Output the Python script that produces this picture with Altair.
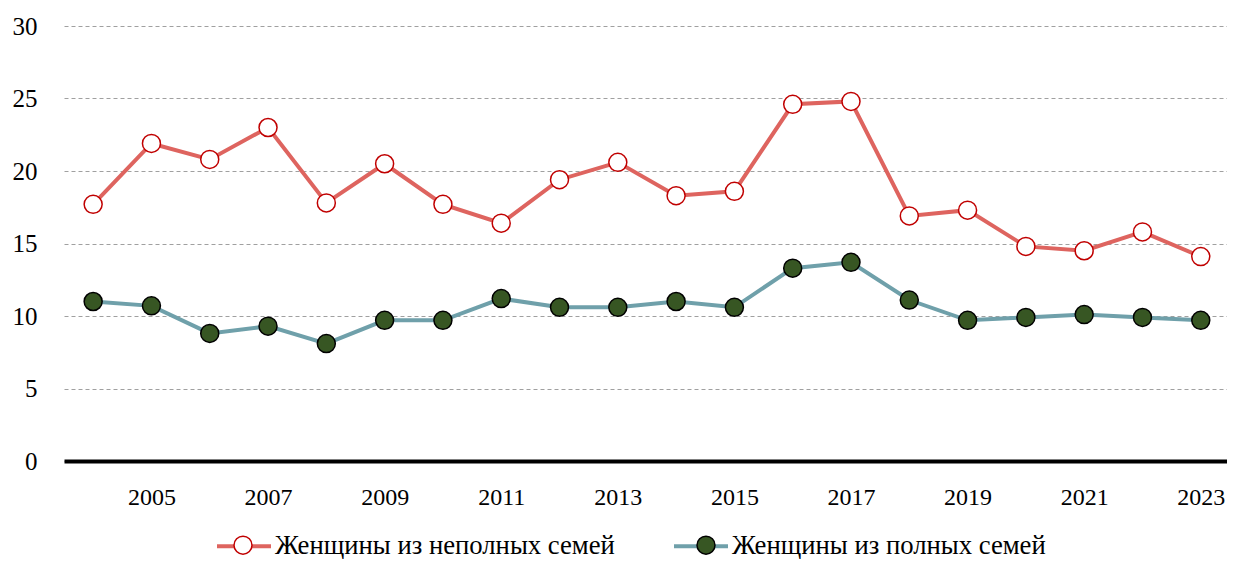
import altair as alt
import pandas as pd

years = list(range(2004, 2024))
incomplete = [17.7, 21.9, 20.8, 23.0, 17.8, 20.5, 17.7, 16.4, 19.4, 20.6,
              18.3, 18.6, 24.6, 24.8, 16.9, 17.3, 14.8, 14.5, 15.8, 14.1]
complete = [11.0, 10.7, 8.8, 9.3, 8.1, 9.7, 9.7, 11.2, 10.6, 10.6,
            11.0, 10.6, 13.3, 13.7, 11.1, 9.7, 9.9, 10.1, 9.9, 9.7]
series_names = ["Женщины из неполных семей", "Женщины из полных семей"]
x_ticks = list(range(2005, 2024, 2))
y_ticks = [0, 5, 10, 15, 20, 25, 30]

rows = []
for name, vals in zip(series_names, [incomplete, complete]):
    for y, v in zip(years, vals):
        rows.append({"year": y, "value": v, "series": name, "series_pt": name})
df = pd.DataFrame(rows)

FONT = "Liberation Serif"
line_colors = ["#DE645F", "#6FA0AA"]
pt_fill = ["#FFFFFF", "#375623"]
pt_stroke = ["#C00000", "#000000"]

x_enc = alt.X("year:Q",
              scale=alt.Scale(domain=[2003.5, 2023.45], nice=False, zero=False),
              axis=alt.Axis(values=x_ticks, format="d", title=None, grid=False,
                            ticks=False, domainColor="#000000", domainWidth=4,
                            labelFont=FONT, labelFontSize=24, labelColor="#000000",
                            labelPadding=24, labelFlush=False, labelOverlap=False))
y_enc = alt.Y("value:Q",
              scale=alt.Scale(domain=[0, 30], nice=False),
              axis=alt.Axis(values=y_ticks, title=None, domain=False, ticks=False,
                            grid=True, gridColor="#A0A0A0", gridDash=[4, 3], gridWidth=1,
                            labelFont=FONT, labelFontSize=25, labelColor="#000000",
                            labelPadding=27))

common_legend = dict(orient="none", legendX=151, legendY=491, direction="horizontal",
                     title=None, labelFont=FONT, labelFontSize=26.7, labelLimit=1000,
                     labelOffset=2, symbolSize=2916, padding=0)

lines = alt.Chart(df).mark_line(strokeWidth=4).encode(
    x=x_enc, y=y_enc,
    color=alt.Color("series:N", scale=alt.Scale(domain=series_names, range=line_colors),
                    legend=alt.Legend(symbolType="stroke", symbolStrokeWidth=4,
                                      labelColor="#000000", columnPadding=51,
                                      zindex=0, **common_legend)),
    detail="series:N",
    order="year:Q",
)

circle_path = "M0.333,0 A0.333,0.333 0 1,1 -0.333,0 A0.333,0.333 0 1,1 0.333,0 Z"
pt_legend = alt.Legend(symbolType=circle_path, symbolStrokeWidth=1.5, symbolOpacity=1,
                       labelExpr="''", columnPadding=405, zindex=1, **common_legend)

points = alt.Chart(df).mark_point(filled=True, shape="circle", size=324,
                                  strokeWidth=1.5, opacity=1).encode(
    x=x_enc, y=y_enc,
    fill=alt.Fill("series_pt:N", scale=alt.Scale(range=pt_fill), legend=pt_legend),
    stroke=alt.Stroke("series_pt:N", scale=alt.Scale(range=pt_stroke), legend=pt_legend),
)

chart = alt.layer(lines, points).properties(
    width=1163, height=435,
    background="#FFFFFF",
    autosize=alt.AutoSizeParams(type="none"),
    padding={"left": 56, "top": 18, "right": 0, "bottom": 98},
).configure_view(strokeWidth=0, stroke="transparent")

chart.save("out.html", embed_options={"renderer": "svg", "actions": False})
